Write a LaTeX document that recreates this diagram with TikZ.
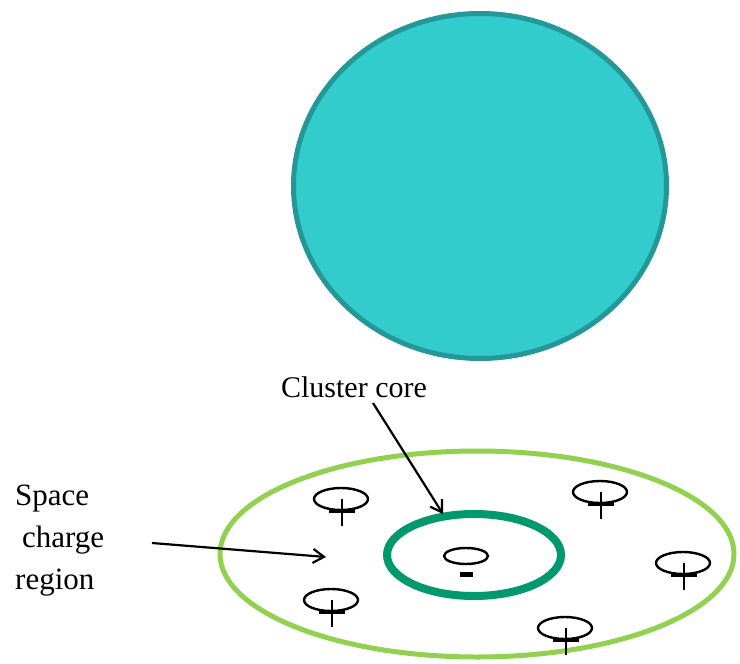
\documentclass[tikz,border=0pt]{standalone}
\usepackage{fontspec}
\setmainfont{Liberation Serif}
\usetikzlibrary{shapes.geometric, arrows.meta, positioning}
\definecolor{dropfill}{RGB}{51,204,204}
\definecolor{dropline}{RGB}{36,152,152}
\definecolor{regioncolor}{RGB}{146,208,80}
\definecolor{corecolor}{RGB}{0,153,110}

\begin{document}
\begin{tikzpicture}[x=1pt, y=-1pt,
    ion/.style={ellipse, draw=black, line width=2.4pt, inner sep=0pt,
                minimum width=54pt, minimum height=22pt},
    label/.style={inner sep=0pt, font=\fontsize{30}{40}\selectfont},
    pointer/.style={-{Straight Barb[length=11pt, width=14pt]}, line width=2.2pt}]
  \useasboundingbox (0,0) rectangle (740,664);

  % droplet
  \node[ellipse, fill=dropfill, draw=dropline, line width=5pt, inner sep=0pt,
        minimum width=373pt, minimum height=345pt] (drop) at (480,186) {};

  % space charge region and cluster core
  \node[ellipse, draw=regioncolor, line width=5pt, inner sep=0pt,
        minimum width=514pt, minimum height=206pt] (region) at (477,554) {};
  \node[ellipse, draw=corecolor, line width=8pt, inner sep=0pt,
        minimum width=174pt, minimum height=82pt] (core) at (474,555) {};

  % negative ion in the core
  \node[ion, minimum width=44pt, minimum height=16pt] (neg) at (466,556) {};
  \draw[line width=5pt] ([xshift=-6.5pt, yshift=-18pt]neg.center) -- ++(13,0);

  % positive ions
  \foreach \n/\x/\y in {1/341/499, 2/600/492, 3/683/563, 4/565/628, 5/331/600} {
    \node[ion] (pos\n) at (\x,\y) {};
    \draw[line width=2.8pt] ([xshift=1pt]pos\n.center) -- ++(0,27);
    \draw[line width=4.5pt] ([xshift=-12pt, yshift=-12pt]pos\n.center) -- ++(26,0);
  }

  % labels
  \node[label, anchor=base] (corelabel) at (354,397) {Cluster core};
  \node[label, anchor=north west, align=left, font=\fontsize{31}{42}\selectfont]
    (regionlabel) at (15,485) {Space\\\hspace*{7pt}charge\\region};

  \coordinate (coretail) at (373,403);
  \coordinate (coretip) at (443,514);
  \coordinate (regiontail) at (152,543);
  \coordinate (regiontip) at (326,557);
  \draw[pointer] (coretail) -- (coretip);
  \draw[pointer] (regiontail) -- (regiontip);
\end{tikzpicture}
\end{document}
